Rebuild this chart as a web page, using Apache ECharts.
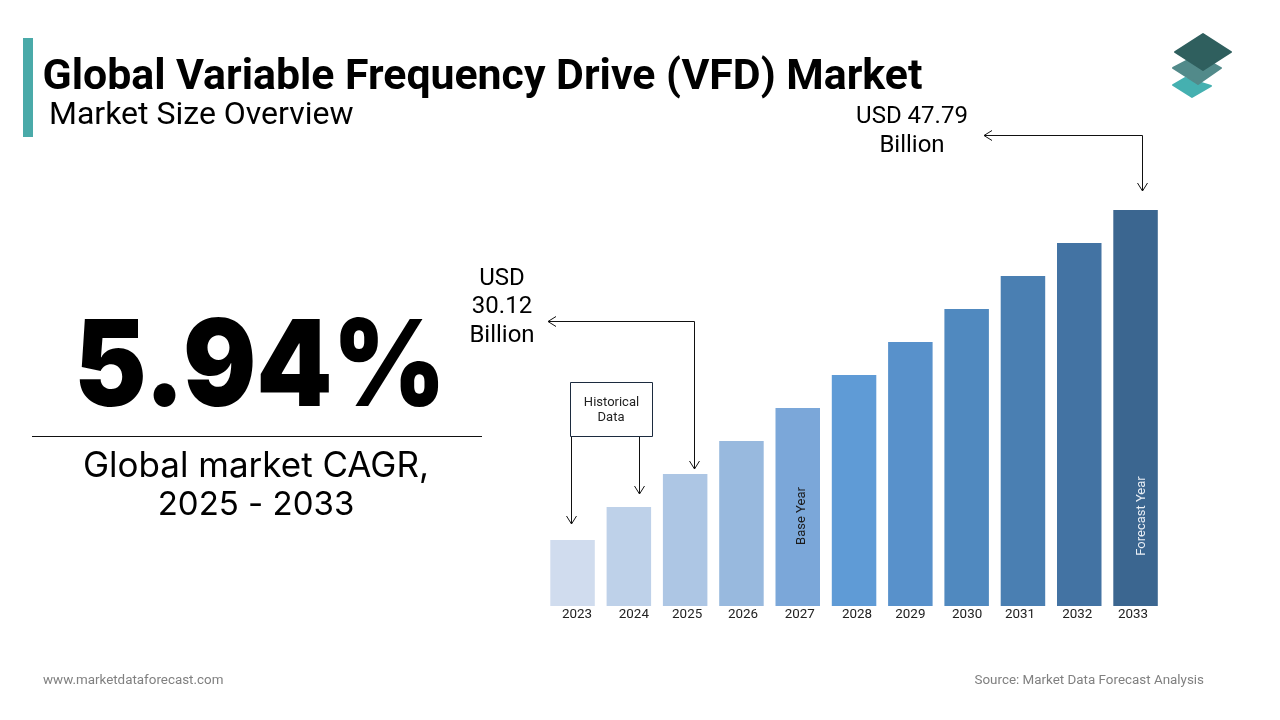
<!DOCTYPE html>
<html>
	<head>
		<meta charset="utf-8">
		<title>Global Variable Frequency Drive (VFD) Market</title>
		<script type="text/javascript" src="https://cdn.jsdelivr.net/npm/echarts@6/dist/echarts.min.js"></script>
		<style>
			html, body { margin: 0; padding: 0; background: #fff; }
		</style>
	</head>
	<body>
		<div id="chart" style="width:1280px;height:720px;"></div>
		<script type="text/javascript">
			// the bars are schematic, heights read in equal steps off the picture
			var years = ['2023', '2024', '2025', '2026', '2027', '2028', '2029', '2030', '2031', '2032', '2033'];
			var barHeights = [2, 3, 4, 5, 6, 7, 8, 9, 10, 11, 12];
			var barColors = ['#d0dcee', '#bed1e9', '#adc6e4', '#98b9de', '#7ba7d9', '#5f9bd6', '#5891cb', '#5089bf', '#4a7fb2', '#4373a3', '#3b6690'];
			var barNotes = { '2027': 'Base Year', '2033': 'Forecast Year' };

			// year labels sit a little off the bar centres in the reference
			var labelShift = [4.5, 5, 2, 1.5, 2, 3, 0, 0.5, -3, -2, -2.5];

			var richYears = {};
			years.forEach(function(y, i) {
				var s = labelShift[i];
				richYears['y' + y] = {
					fontFamily: 'Roboto',
					fontSize: 13.4,
					color: '#222',
					padding: [0, s < 0 ? -2 * s : 0, 0, s > 0 ? 2 * s : 0]
				};
			});

			var barData = barHeights.map(function(v, i) {
				var item = { value: v, itemStyle: { color: barColors[i] } };
				var note = barNotes[years[i]];
				if (note) {
					// label offset turns with the label, so [along, across]
					item.label = {
						show: true,
						formatter: note,
						position: 'inside',
						rotate: 90,
						offset: years[i] === '2027' ? [-9, 4] : [-108, 6],
						fontFamily: 'Roboto',
						fontSize: 13,
						color: years[i] === '2027' ? '#1a1a1a' : '#e8eef5'
					};
				}
				return item;
			});

			function arrowHead(x, y, dir) {
				// open arrow head, tip at x,y
				var pts = dir === 'down'
					? [[x - 5, y - 8], [x, y], [x + 5, y - 8]]
					: [[x + 8, y - 5], [x, y], [x + 8, y + 5]];
				return { type: 'polyline', shape: { points: pts }, style: { stroke: '#111', lineWidth: 1, fill: null } };
			}

			function line(points) {
				return { type: 'polyline', shape: { points: points }, style: { stroke: '#111', lineWidth: 1, fill: null } };
			}

			function text(str, x, y, font, color, align) {
				return {
					type: 'text',
					x: x,
					y: y,
					style: { text: str, font: font, fill: color || '#000', align: align || 'center', verticalAlign: 'middle' }
				};
			}

			function diamond(points, color) {
				return {
					type: 'polygon',
					shape: { points: points },
					style: { fill: color, stroke: color, lineWidth: 2, lineJoin: 'round' }
				};
			}

			var bigNumber = text('5.94%', 260, 370, '900 120px Inter');
			bigNumber.scaleX = 0.905;

			var myChart = echarts.init(document.getElementById('chart'));
			var option = {
				animation: false,
				backgroundColor: '#fff',
				grid: { left: 544.4, top: 210, width: 619.3, height: 396 },
				xAxis: {
					type: 'category',
					data: years,
					axisLine: { show: false },
					axisTick: { show: false },
					axisLabel: {
						interval: 0,
						margin: 2,
						formatter: function(value) {
							return '{y' + value + '|' + value + '}';
						},
						rich: richYears
					}
				},
				yAxis: { type: 'value', min: 0, max: 12, show: false },
				series: [{
					type: 'bar',
					barWidth: 44.5,
					data: barData
				}],
				graphic: [
					{ type: 'rect', shape: { x: 23, y: 38, width: 10, height: 99 }, style: { fill: '#4aaaa9' } },
					text('Global Variable Frequency Drive (VFD) Market', 42.5, 78, 'bold 42.8px Roboto', '#000', 'left'),
					text('Market Size Overview', 49, 116, '32px Roboto', '#000', 'left'),

					diamond([[1173, 85], [1185, 78], [1211, 86], [1192, 97]], '#45b0b0'),
					diamond([[1173, 68], [1198, 55], [1221, 68], [1198, 84]], '#528a8a'),
					diamond([[1175, 52], [1203, 34], [1231, 52], [1203, 70]], '#2f5f5e'),

					bigNumber,
					{ type: 'line', shape: { x1: 32, y1: 436.5, x2: 482, y2: 436.5 }, style: { stroke: '#111', lineWidth: 1 } },
					text('Global market CAGR,', 256, 466, '35px Inter'),
					text('2025 - 2033', 256, 505, '33px Inter'),

					text('USD 47.79', 912, 117, '24px Roboto'),
					text('Billion', 912, 146, '24px Roboto'),
					line([[984, 135.5], [1142.5, 135.5], [1142.5, 191]]),
					arrowHead(984, 135.5, 'left'),
					arrowHead(1142.5, 191, 'down'),

					text('USD', 502, 279, '24px Roboto'),
					text('30.12', 502, 307, '24px Roboto'),
					text('Billion', 502, 336, '24px Roboto'),
					line([[548, 321.5], [694.5, 321.5], [694.5, 469]]),
					arrowHead(548, 321.5, 'left'),
					arrowHead(694.5, 469, 'down'),

					{ type: 'rect', shape: { x: 570.5, y: 382.5, width: 82, height: 54 }, style: { fill: '#fff', stroke: '#1c2b3f', lineWidth: 1 } },
					text('Historical', 611.5, 403, '13px Roboto', '#222'),
					text('Data', 611, 418, '13px Roboto', '#222'),
					line([[571.5, 437], [571.5, 524]]),
					arrowHead(571.5, 524, 'down'),
					line([[639.5, 437], [639.5, 494]]),
					arrowHead(639.5, 494, 'down'),

					text('www.marketdataforecast.com', 43, 681, '13.4px Roboto', '#808080', 'left'),
					text('Source: Market Data Forecast Analysis', 1204, 681, '13.4px Roboto', '#808080', 'right')
				]
			};
			myChart.setOption(option);
		</script>
	</body>
</html>
